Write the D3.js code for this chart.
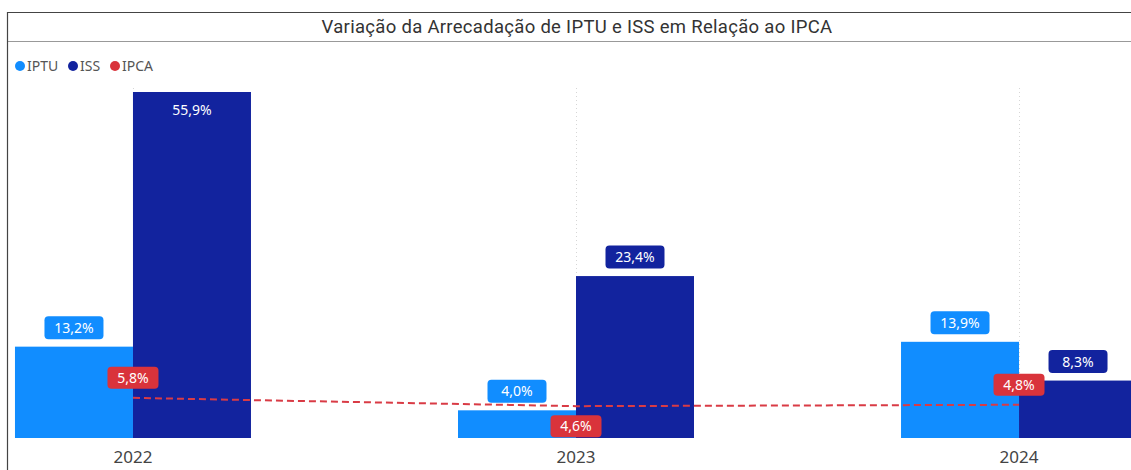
<!DOCTYPE html>
<html>
<head>
<meta charset="utf-8">
<script src="https://cdn.jsdelivr.net/npm/d3@7"></script>
<style>
  body { margin: 0; background: #fff; overflow: hidden; }
  svg { display: block; }
</style>
</head>
<body>
<div id="chart"></div>
<script>
// data
const years = ["2022", "2023", "2024"];
const series = ["IPTU", "ISS"];
const iptu = [13.2, 4.0, 13.9];
const iss = [55.9, 23.4, 8.3];
const ipca = [5.8, 4.6, 4.8];
const ipcaLabelSide = ["above", "below", "above"];

const colors = { IPTU: "#118DFF", ISS: "#12239E", IPCA: "#D9333B" };

const width = 1131, height = 470;
const svg = d3.select("#chart").append("svg")
    .attr("width", width)
    .attr("height", height);

// frame + title band
svg.append("line").attr("x1", 7).attr("x2", width).attr("y1", 12.5).attr("y2", 12.5)
    .attr("stroke", "#444").attr("stroke-width", 1.2);
svg.append("line").attr("x1", 7).attr("x2", width).attr("y1", 41.5).attr("y2", 41.5)
    .attr("stroke", "#999").attr("stroke-width", 1);
svg.append("line").attr("x1", 7.5).attr("x2", 7.5).attr("y1", 12).attr("y2", height)
    .attr("stroke", "#444").attr("stroke-width", 1.2);

svg.append("text")
    .attr("x", 577).attr("y", 33)
    .attr("text-anchor", "middle")
    .style("font-family", "Roboto, sans-serif")
    .style("font-size", "18.5px")
    .style("letter-spacing", "0.3px")
    .style("fill", "#333")
    .text("Variação da Arrecadação de IPTU e ISS em Relação ao IPCA");

// legend
const legendItems = ["IPTU", "ISS", "IPCA"];
const legendX = [20, 73, 115];
const legend = svg.append("g");
legendItems.forEach((name, i) => {
  legend.append("circle").attr("cx", legendX[i]).attr("cy", 66).attr("r", 5)
      .attr("fill", colors[name]);
  legend.append("text").attr("x", legendX[i] + 7).attr("y", 71)
      .style("font-family", "'Noto Sans', sans-serif")
      .style("font-size", "14px")
      .style("fill", "#555")
      .text(name);
});

// scales
const x = d3.scaleBand()
    .domain(years)
    .range([7, 1145])
    .paddingInner(0.4673)
    .paddingOuter(0.018);

const xSub = d3.scaleBand()
    .domain(series)
    .range([0, x.bandwidth()])
    .padding(0);

const y = d3.scaleLinear()
    .domain([0, 50])
    .range([438, 92]);

const cx = d => x(d) + x.bandwidth() / 2;

// vertical dotted grid at category centers
svg.append("g").selectAll("line")
    .data(years)
    .join("line")
    .attr("x1", d => cx(d) + 0.5).attr("x2", d => cx(d) + 0.5)
    .attr("y1", 88).attr("y2", 438)
    .attr("stroke", "#d6d6d6")
    .attr("stroke-dasharray", "1,3");

// bars (clipped at plot top)
svg.append("clipPath").attr("id", "plotClip")
  .append("rect").attr("x", 0).attr("y", y(50)).attr("width", width).attr("height", y(0) - y(50));

const rows = years.map((yr, i) => ({ year: yr, IPTU: iptu[i], ISS: iss[i] }));

const groups = svg.append("g").attr("clip-path", "url(#plotClip)")
  .selectAll("g")
  .data(rows)
  .join("g")
  .attr("transform", d => `translate(${x(d.year)},0)`);

groups.selectAll("rect")
  .data(d => series.map(s => ({ key: s, value: d[s] })))
  .join("rect")
  .attr("x", d => xSub(d.key))
  .attr("width", xSub.bandwidth())
  .attr("y", d => y(d.value))
  .attr("height", d => y(0) - y(d.value))
  .attr("fill", d => colors[d.key]);

// IPCA dashed line
const line = d3.line()
    .x((d, i) => cx(years[i]))
    .y(d => y(d));

svg.append("path")
    .datum(ipca)
    .attr("d", line)
    .attr("fill", "none")
    .attr("stroke", "#D93B45")
    .attr("stroke-width", 2)
    .attr("stroke-dasharray", "7,4");

// x axis labels
svg.append("g").selectAll("text")
    .data(years)
    .join("text")
    .attr("x", d => cx(d))
    .attr("y", 463)
    .attr("text-anchor", "middle")
    .style("font-family", "'Noto Sans', sans-serif")
    .style("font-size", "17px")
    .style("fill", "#444")
    .text(d => d);

// data labels
const fmt = v => d3.format(".1f")(v).replace(".", ",") + "%";
const labelLayer = svg.append("g")
    .style("font-family", "'Noto Sans', sans-serif")
    .style("font-size", "14px");

function badge(cxp, cyp, txt, fill, w, h) {
  labelLayer.append("rect")
      .attr("x", cxp - w / 2).attr("y", cyp - h / 2)
      .attr("width", w).attr("height", h)
      .attr("rx", 4)
      .attr("fill", fill);
  labelLayer.append("text")
      .attr("x", cxp).attr("y", cyp + 5)
      .attr("text-anchor", "middle")
      .style("fill", "#fff")
      .text(txt);
}

rows.forEach(d => {
  series.forEach(s => {
    const bx = x(d.year) + xSub(s) + xSub.bandwidth() / 2;
    if (d[s] > y.domain()[1]) {
      // clipped bar: label inside at the top
      labelLayer.append("text")
          .attr("x", bx).attr("y", y(y.domain()[1]) + 23)
          .attr("text-anchor", "middle")
          .style("fill", "#fff")
          .text(fmt(d[s]));
    } else {
      badge(bx, y(d[s]) - 19, fmt(d[s]), colors[s], 59, 23);
    }
  });
});

ipca.forEach((v, i) => {
  const off = ipcaLabelSide[i] === "above" ? -20 : 20;
  badge(cx(years[i]), y(v) + off, fmt(v), colors.IPCA, 51, 22);
});
</script>
</body>
</html>
